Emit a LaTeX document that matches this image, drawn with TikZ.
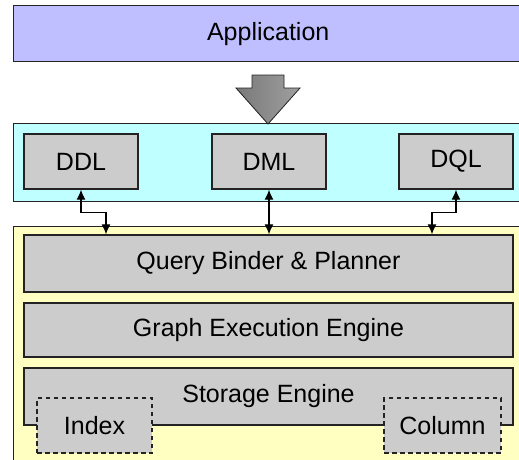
\documentclass[tikz,border=0pt]{standalone}
\usepackage{fontspec}
\setmainfont{Liberation Sans}
\usetikzlibrary{arrows.meta}

\definecolor{appblue}{RGB}{191,191,255}
\definecolor{apicyan}{RGB}{191,255,255}
\definecolor{coreyellow}{RGB}{255,255,194}
\definecolor{blockgray}{RGB}{204,204,204}
\definecolor{edgegray}{RGB}{35,35,35}

\tikzset{
  layer/.style={draw=edgegray, line width=1.4pt, anchor=north west, inner sep=0pt,
    font=\fontsize{25}{30}\selectfont},
  block/.style={draw=edgegray, line width=1.4pt, fill=blockgray, inner sep=0pt,
    font=\fontsize{25}{30}\selectfont},
  subblock/.style={block, line width=1.2pt, dash pattern=on 4.5pt off 3.5pt},
  link/.style={line width=1.1pt, {Latex[length=10pt,width=9pt]}-{Latex[length=10pt,width=9pt]}},
}

\begin{document}
\begin{tikzpicture}[x=1pt,y=-1pt]
\useasboundingbox (0,0) rectangle (519,459);
\clip (0,0) rectangle (519,459);

% layers
\node[layer, fill=appblue, minimum width=509, minimum height=56] (app) at (13,5) {Application};
\node[layer, fill=apicyan, minimum width=509, minimum height=78] (api) at (13,123) {};
\node[layer, fill=coreyellow, minimum width=509, minimum height=250] (core) at (13,226) {};

% big arrow
\draw[edgegray, line width=0.8pt, left color=gray!95!black, right color=gray!75]
  (252,75) -- (284,75) -- (284,88) -- (300,88) -- (268,124) -- (236,88) -- (252,88) -- cycle;

% languages
\node[block, minimum width=114, minimum height=55] (ddl) at (81,161.5) {DDL};
\node[block, minimum width=114, minimum height=55] (dml) at (269,161.5) {DML};
\node[block, minimum width=114, minimum height=55] (dql) at (456,161.5) {DQL};

% engine stack
\node[block, minimum width=489, minimum height=57] (qbp) at (268.5,263.5) {Query Binder \& Planner};
\node[block, minimum width=489, minimum height=54] (gee) at (268.5,330) {Graph Execution Engine};
\node[block, minimum width=489, minimum height=57] (se) at (268.5,396.5) {Storage Engine};
\node[subblock, minimum width=115, minimum height=55] (idx) at (94.5,425.5) {Index};
\node[subblock, minimum width=117, minimum height=55] (col) at (442.5,425.5) {Column};

\draw[link] (ddl.south) -- ++(0,23) -| ([xshift=-162.5pt]qbp.north);
\draw[link] (dml.south) -- (dml.south |- qbp.north);
\draw[link] (dql.south) -- ++(0,23) -| ([xshift=163.5pt]qbp.north);
\end{tikzpicture}
\end{document}
